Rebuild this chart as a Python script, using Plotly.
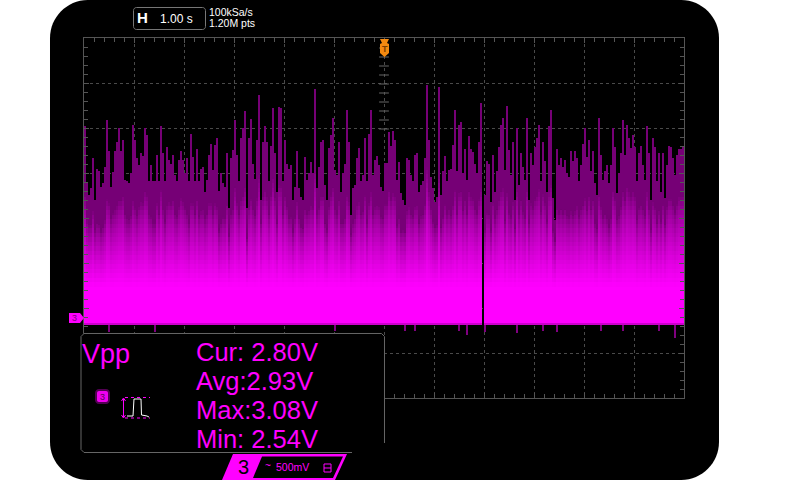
import plotly.graph_objects as go

peaks_a = [2.13,1.50,1.37,1.44,1.78,1.31,1.66,1.63,1.46,1.50,1.68,2.20,1.86,1.46,1.62,1.86,1.96,2.11,1.86,1.98,1.53,1.52,1.50,1.61,2.15,1.98,1.78,1.70,1.83,1.80,2.11,2.03,1.52,1.70,1.52,1.52,1.81,1.52,2.13,1.83,1.52,1.90,1.76,1.71,1.81,1.59,1.52,1.76,1.86,1.76,1.61,1.78,1.52,2.05,1.79,1.52,1.88,1.52,1.66,1.68]
peaks_b = [1.40,1.53,1.81,1.93,1.65,1.92,2.00,1.41,1.61,1.50,1.46,1.83,1.22,1.78,1.87,2.20,1.81,1.52,2.00,2.11,2.30,1.22,2.00,2.21,1.71,1.55,1.98,2.48,1.31,1.96,2.13,1.96,1.52,1.91,2.33,1.83,1.40,2.35,2.33,1.52,1.98,1.71,1.66,1.70,1.31,1.46,1.86,1.44,1.35,1.31,1.79,1.53,1.61,1.73,1.61,2.55,1.44,1.68,1.96,1.98]
peaks_c = [1.48,1.31,1.89,2.03,2.22,1.65,1.59,1.96,1.40,1.61,1.71,2.31,1.96,1.15,1.44,1.48,1.78,1.89,1.52,1.59,2.00,1.52,2.05,2.31,1.59,1.76,1.80,1.70,1.46,1.41,1.72,1.72,2.07,1.91,2.08,1.98,1.53,1.73,1.39,1.31,1.26,1.78,1.76,1.59,1.52,1.81,1.83,1.40,1.48,1.52,1.78,2.59,1.98,1.57,1.44,1.29,1.35,2.57,1.37,1.63]
peaks_d = [1.80,1.52,1.65,1.66,1.92,2.31,1.63,2.15,2.18,1.61,1.88,1.53,2.02,1.88,1.84,1.71,1.61,1.96,2.39,0,1.37,1.74,1.71,1.29,1.81,1.40,1.63,1.90,2.15,2.22,1.65,2.36,1.87,1.59,1.96,1.31,2.11,1.48,1.83,1.68,1.53,2.22,1.31,1.83,1.70,1.90,2.00,2.15,1.52,1.96,1.74,1.40,2.13,2.31,1.33,1.09,1.88,1.70,1.78,1.68]
peaks_e = [1.76,1.61,1.57,1.86,1.74,1.86,1.78,1.52,1.70,1.93,2.11,1.79,1.98,1.63,1.86,1.50,1.37,2.22,1.81,1.53,1.63,1.70,1.50,1.70,2.11,1.90,1.39,1.61,1.83,2.20,1.81,2.15,2.00,1.89,2.03,1.90,1.52,1.83,1.91,1.70,1.53,2.13,1.83,1.31,2.00,1.90,1.52,1.83,1.40,1.83,1.33,1.70,1.91,1.90,1.78,1.59,1.81,1.88,1.88,1.90]
peaks = peaks_a + peaks_b + peaks_c + peaks_d + peaks_e

# Top of the dense, brighter part of the trace, one value per three columns (V)
dense = [1.20,1.15,1.00,1.05,1.25,1.10,1.30,1.20,1.05,1.30,1.28,1.10,1.30,1.15,1.35,1.25,1.35,1.10,1.30,1.25,
         1.30,1.20,1.05,1.25,1.10,1.30,1.20,1.05,1.25,1.30,1.30,1.38,1.22,1.30,1.10,1.28,1.18,1.30,1.35,1.30,
         1.15,1.28,1.22,1.05,1.18,1.25,1.30,1.10,1.25,1.30,1.35,1.28,1.05,1.15,1.25,1.22,1.30,1.38,1.22,1.15,
         1.28,1.15,1.22,1.30,1.35,1.25,1.10,1.15,1.30,1.25,1.05,1.18,1.32,1.22,1.28,1.30,1.35,1.25,1.12,1.18,
         1.20,1.08,1.25,1.15,1.30,1.12,1.22,1.05,1.30,1.20,1.35,1.35,1.18,1.25,1.15,1.12,1.25,1.30,1.28,1.35]

# Negative excursions: column number and lowest voltage
low_cols = [12,35,125,160,165,187,191,199,216,229,236,258,269,287,295,200]
low_vals = [-0.16,-0.16,-0.14,-0.14,-0.14,-0.14,-0.19,-0.19,-0.17,-0.14,-0.15,-0.14,-0.14,-0.14,-0.22,-0.15]
base_low = -0.08

t_start, t_end = -6.0, 6.0
v_bottom, v_top = -0.8889, 3.1111
band_step = 0.05
center_ticks = [2.1, 2.2, 2.3, 2.4, 2.5, 2.6, 2.7, 2.8, 2.9, 3.0]

W, H = 800, 480
L, R, T, B = 84, 684, 38, 398


def px(x):
    return (x - L) / (R - L)


def py(y):
    return (B - y) / (B - T)


def mix(f):
    f = max(0, min(1, f))
    v = int(round(112 + (255 - 112) * f ** 0.7))
    return f"rgb({v},0,{v})"


body_x, body_base, body_h, body_c = [], [], [], []
spike_x, spike_base, spike_h, spike_c = [], [], [], []
lows = dict(zip(low_cols, low_vals))
for i, p in enumerate(peaks):
    if p <= 0:
        continue
    t = t_start + (i + 0.5) / 25
    # Each column's own brightness ramp follows the dense level and its own peak
    ref = 0.55 * dense[i // 3] + 0.45 * (p - 0.55)
    d = min(ref, p)
    low = lows.get(i, base_low)
    if i in lows:
        spike_x.append(t); spike_base.append(low); spike_h.append(base_low - low); spike_c.append("rgb(128,0,128)")
    body_x.append(t); body_base.append(base_low); body_h.append(0.03); body_c.append("rgb(205,0,205)")
    v = base_low + 0.03
    while v < d:
        top = min(v + band_step, d)
        body_c.append(mix((ref - v) / (ref - 0.32)))
        body_x.append(t); body_base.append(v); body_h.append(top - v)
        v = top
    if p > d:
        spike_x.append(t); spike_base.append(d); spike_h.append(p - d); spike_c.append("rgb(118,0,118)")

fig = go.Figure()
fig.add_trace(go.Bar(x=spike_x, y=spike_h, base=spike_base, width=0.03,
                     marker=dict(color=spike_c, line=dict(width=0)), hoverinfo="skip"))
fig.add_trace(go.Bar(x=body_x, y=body_h, base=body_base, width=0.04,
                     marker=dict(color=body_c, line=dict(width=0)), hoverinfo="skip"))
fig.add_trace(go.Scatter(x=[0] * len(center_ticks), y=center_ticks, mode="markers", hoverinfo="skip",
                         marker=dict(symbol="line-ew", size=7, line=dict(color="#666666", width=1))))


def path(points, close=False):
    s = "M" + " L".join(f"{px(x):.5f},{py(y):.5f}" for x, y in points)
    return s + (" Z" if close else "")


def add_path(points, fill=None, line=None, width=1, layer="above", close=True, dash=None):
    fig.add_shape(type="path", xref="paper", yref="paper", path=path(points, close), layer=layer,
                  fillcolor=fill if fill else "rgba(0,0,0,0)",
                  line=dict(color=line if line else "rgba(0,0,0,0)", width=width if line else 0, dash=dash))


def rounded(x0, y0, x1, y1, r):
    c = 0.45 * r
    P = lambda x, y: f"{px(x):.5f},{py(y):.5f}"
    return (f"M{P(x0 + r, y0)} L{P(x1 - r, y0)} C{P(x1 - c, y0)} {P(x1, y0 + c)} {P(x1, y0 + r)} "
            f"L{P(x1, y1 - r)} C{P(x1, y1 - c)} {P(x1 - c, y1)} {P(x1 - r, y1)} "
            f"L{P(x0 + r, y1)} C{P(x0 + c, y1)} {P(x0, y1 - c)} {P(x0, y1 - r)} "
            f"L{P(x0, y0 + r)} C{P(x0, y0 + c)} {P(x0 + c, y0)} {P(x0 + r, y0)} Z")


# Instrument body
fig.add_shape(type="path", xref="paper", yref="paper", layer="below", path=rounded(50, 0, 719, 480, 38),
              fillcolor="#000000", line=dict(width=0))

# Measurement panel
fig.add_shape(type="path", xref="paper", yref="paper", layer="above", path=rounded(81, 333.5, 384.5, 452.5, 4),
              fillcolor="#000000", line=dict(width=0))
add_path([(352, 452.5), (84, 452.5), (81, 449.5), (81, 336.5), (84, 333.5), (381.5, 333.5), (384.5, 336.5), (384.5, 443)],
         line="#666666", width=1, close=False)

# Horizontal readout box
fig.add_shape(type="path", xref="paper", yref="paper", layer="above", path=rounded(133.5, 7.5, 205.5, 29.5, 3),
              fillcolor="#000000", line=dict(color="#777777", width=1))

# Trigger marker
add_path([(380, 39), (389, 39), (387, 43), (389, 44), (389, 53), (384.5, 57), (380, 53), (380, 44), (382, 43)], fill="#f58a10")

# Channel ground marker
add_path([(69, 313), (80, 313), (84, 318), (80, 323), (69, 323)], fill="#ff00ff")

# Small channel badge with glow
fig.add_shape(type="path", xref="paper", yref="paper", layer="above", path=rounded(95, 389, 110, 404, 4),
              fillcolor="rgba(150,0,150,0.55)", line=dict(width=0))
fig.add_shape(type="path", xref="paper", yref="paper", layer="above", path=rounded(97, 391, 108, 402, 2),
              fillcolor="#ee00ee", line=dict(width=0))

# Pulse icon
add_path([(125, 397.5), (150, 397.5)], line="#ff00ff", width=1, close=False, dash="dot")
add_path([(125, 418), (150, 418)], line="#ff00ff", width=1, close=False, dash="dot")
add_path([(123.5, 399), (123.5, 417)], line="#ff00ff", width=1, close=False)
add_path([(121.5, 401), (123.5, 398), (125.5, 401)], line="#ff00ff", width=1, close=False)
add_path([(121.5, 415), (123.5, 418), (125.5, 415)], line="#ff00ff", width=1, close=False)
add_path([(127, 416), (133, 416), (134, 399), (141, 399), (141.5, 415), (147, 416), (149, 417)],
         line="#ffffff", width=1, close=False)

# Bottom channel tag
add_path([(222, 480), (233, 454), (347, 454), (335, 480)], fill="#ff00ff")
add_path([(253, 478), (262, 456.5), (343, 456.5), (333, 478)], fill="#000000")
add_path([(324, 464), (331, 464), (331, 472), (324, 472)], line="#ff00ff", width=1)
add_path([(324, 468), (331, 468)], line="#ff00ff", width=1, close=False)


def text(x, y, s, size, color, family="Liberation Sans", anchor="left"):
    fig.add_annotation(xref="paper", yref="paper", x=px(x), y=py(y), text=s, showarrow=False,
                       xanchor=anchor, yanchor="middle", borderpad=0,
                       font=dict(family=family, size=size, color=color))


text(81, 354, "Vpp", 27, "#ff00ff")
text(195, 352, "Cur: 2.80V", 25.5, "#ff00ff")
text(195, 381, "Avg:2.93V", 25.5, "#ff00ff")
text(195, 410, "Max:3.08V", 25.5, "#ff00ff")
text(195, 439, "Min: 2.54V", 25.5, "#ff00ff")
text(136, 18, "<b>H</b>", 15, "#ffffff")
text(159, 19.5, "1.00 s", 12, "#ffffff")
text(208, 12, "100kSa/s", 10.5, "#ffffff")
text(208, 23, "1.20M pts", 10.5, "#ffffff")
text(384.5, 49, "<b>T</b>", 9, "#7a3d00", anchor="center")
text(74.5, 318, "3", 9, "#7a007a", anchor="center")
text(102.5, 396.5, "3", 9, "#5a005a", anchor="center")
text(243, 467, "3", 20, "#000000", anchor="center")
text(264, 465, "~", 10, "#ff00ff")
text(275, 467, "500mV", 10.5, "#ff00ff")

axis_common = dict(showline=True, linecolor="#555555", linewidth=1, mirror="ticks", showticklabels=False,
                   showgrid=True, gridcolor="#4a4a4a", griddash="dot", gridwidth=1, zeroline=False,
                   ticks="inside", ticklen=5, tickcolor="#555555", tickwidth=1)
fig.update_xaxes(range=[t_start, t_end], dtick=1, tick0=t_start,
                 minor=dict(dtick=0.2, tick0=t_start, ticks="inside", ticklen=4, tickcolor="#555555", showgrid=False),
                 **axis_common)
fig.update_yaxes(range=[v_bottom, v_top], dtick=0.5, tick0=v_bottom,
                 minor=dict(dtick=0.1, tick0=v_bottom, ticks="inside", ticklen=4, tickcolor="#555555", showgrid=False),
                 **axis_common)
fig.update_layout(width=W, height=H, autosize=False, showlegend=False, bargap=0, barmode="overlay",
                  margin=dict(l=L, r=W - R, t=T, b=H - B, pad=0),
                  paper_bgcolor="#ffffff", plot_bgcolor="rgba(0,0,0,0)")
fig.write_html("out.html", config={"displayModeBar": False},
               post_script="document.body.style.margin='0';document.documentElement.style.overflow='hidden';")
